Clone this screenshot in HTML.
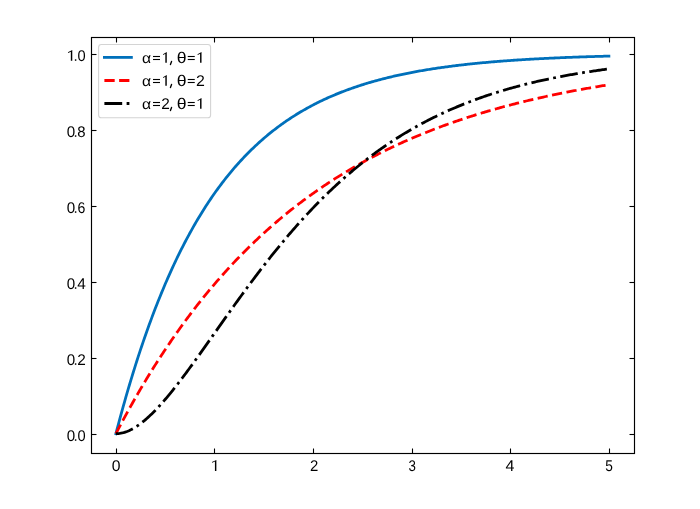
<!DOCTYPE html>
<html><head><meta charset="utf-8"><style>
html,body{margin:0;padding:0;width:700px;height:509px;overflow:hidden;background:#fff;}
</style></head><body>
<svg width="700" height="509" viewBox="0 0 700 509" style="position:absolute;left:0;top:0;will-change:transform"><rect width="700" height="509" fill="#fff"/><defs><clipPath id="c"><rect x="91.5" y="37.5" width="543.00" height="416.00"/></clipPath></defs><g clip-path="url(#c)" fill="none" stroke-linejoin="round"><path d="M115.90,433.70 L117.14,428.97 L118.37,424.29 L119.61,419.67 L120.84,415.11 L122.08,410.61 L123.31,406.16 L124.55,401.77 L125.78,397.44 L127.02,393.15 L128.26,388.92 L129.49,384.75 L130.73,380.62 L131.96,376.55 L133.20,372.53 L134.43,368.56 L135.67,364.63 L136.91,360.76 L138.14,356.93 L139.38,353.15 L140.61,349.42 L141.85,345.74 L143.08,342.10 L144.32,338.51 L145.55,334.96 L146.79,331.45 L148.03,327.99 L149.26,324.57 L150.50,321.20 L151.73,317.87 L152.97,314.57 L154.20,311.32 L155.44,308.11 L156.67,304.94 L157.91,301.81 L159.15,298.72 L160.38,295.67 L161.62,292.65 L162.85,289.67 L164.09,286.73 L165.32,283.83 L166.56,280.96 L167.79,278.13 L169.03,275.33 L170.27,272.57 L171.50,269.84 L172.74,267.15 L173.97,264.49 L175.21,261.86 L176.44,259.27 L177.68,256.71 L178.92,254.18 L180.15,251.68 L181.39,249.21 L182.62,246.77 L183.86,244.37 L185.09,241.99 L186.33,239.64 L187.56,237.33 L188.80,235.04 L190.04,232.78 L191.27,230.55 L192.51,228.34 L193.74,226.16 L194.98,224.01 L196.21,221.89 L197.45,219.80 L198.68,217.72 L199.92,215.68 L201.16,213.66 L202.39,211.67 L203.63,209.70 L204.86,207.75 L206.10,205.83 L207.33,203.94 L208.57,202.06 L209.80,200.21 L211.04,198.39 L212.28,196.58 L213.51,194.80 L214.75,193.04 L215.98,191.31 L217.22,189.59 L218.45,187.90 L219.69,186.22 L220.93,184.57 L222.16,182.94 L223.40,181.33 L224.63,179.74 L225.87,178.16 L227.10,176.61 L228.34,175.08 L229.57,173.57 L230.81,172.07 L232.05,170.60 L233.28,169.14 L234.52,167.70 L235.75,166.28 L236.99,164.87 L238.22,163.49 L239.46,162.12 L240.69,160.76 L241.93,159.43 L243.17,158.11 L244.40,156.81 L245.64,155.52 L246.87,154.25 L248.11,153.00 L249.34,151.76 L250.58,150.54 L251.81,149.33 L253.05,148.14 L254.29,146.96 L255.52,145.79 L256.76,144.65 L257.99,143.51 L259.23,142.39 L260.46,141.28 L261.70,140.19 L262.94,139.11 L264.17,138.05 L265.41,136.99 L266.64,135.96 L267.88,134.93 L269.11,133.92 L270.35,132.91 L271.58,131.93 L272.82,130.95 L274.06,129.99 L275.29,129.03 L276.53,128.09 L277.76,127.17 L279.00,126.25 L280.23,125.34 L281.47,124.45 L282.70,123.57 L283.94,122.69 L285.18,121.83 L286.41,120.98 L287.65,120.14 L288.88,119.31 L290.12,118.49 L291.35,117.68 L292.59,116.89 L293.82,116.10 L295.06,115.32 L296.30,114.55 L297.53,113.79 L298.77,113.04 L300.00,112.30 L301.24,111.57 L302.47,110.84 L303.71,110.13 L304.95,109.43 L306.18,108.73 L307.42,108.04 L308.65,107.36 L309.89,106.69 L311.12,106.03 L312.36,105.38 L313.59,104.73 L314.83,104.09 L316.07,103.46 L317.30,102.84 L318.54,102.23 L319.77,101.62 L321.01,101.02 L322.24,100.43 L323.48,99.85 L324.71,99.27 L325.95,98.70 L327.19,98.14 L328.42,97.58 L329.66,97.04 L330.89,96.49 L332.13,95.96 L333.36,95.43 L334.60,94.91 L335.83,94.39 L337.07,93.89 L338.31,93.38 L339.54,92.89 L340.78,92.40 L342.01,91.91 L343.25,91.44 L344.48,90.96 L345.72,90.50 L346.96,90.04 L348.19,89.58 L349.43,89.13 L350.66,88.69 L351.90,88.25 L353.13,87.82 L354.37,87.39 L355.60,86.97 L356.84,86.56 L358.08,86.14 L359.31,85.74 L360.55,85.34 L361.78,84.94 L363.02,84.55 L364.25,84.16 L365.49,83.78 L366.72,83.41 L367.96,83.03 L369.20,82.67 L370.43,82.30 L371.67,81.95 L372.90,81.59 L374.14,81.24 L375.37,80.90 L376.61,80.56 L377.84,80.22 L379.08,79.89 L380.32,79.56 L381.55,79.24 L382.79,78.92 L384.02,78.60 L385.26,78.29 L386.49,77.98 L387.73,77.68 L388.97,77.38 L390.20,77.08 L391.44,76.79 L392.67,76.50 L393.91,76.21 L395.14,75.93 L396.38,75.65 L397.61,75.37 L398.85,75.10 L400.09,74.83 L401.32,74.57 L402.56,74.31 L403.79,74.05 L405.03,73.79 L406.26,73.54 L407.50,73.29 L408.73,73.04 L409.97,72.80 L411.21,72.56 L412.44,72.33 L413.68,72.09 L414.91,71.86 L416.15,71.63 L417.38,71.41 L418.62,71.18 L419.85,70.96 L421.09,70.75 L422.33,70.53 L423.56,70.32 L424.80,70.11 L426.03,69.91 L427.27,69.70 L428.50,69.50 L429.74,69.30 L430.98,69.11 L432.21,68.91 L433.45,68.72 L434.68,68.53 L435.92,68.35 L437.15,68.16 L438.39,67.98 L439.62,67.80 L440.86,67.62 L442.10,67.45 L443.33,67.27 L444.57,67.10 L445.80,66.93 L447.04,66.77 L448.27,66.60 L449.51,66.44 L450.74,66.28 L451.98,66.12 L453.22,65.96 L454.45,65.81 L455.69,65.66 L456.92,65.50 L458.16,65.36 L459.39,65.21 L460.63,65.06 L461.86,64.92 L463.10,64.78 L464.34,64.64 L465.57,64.50 L466.81,64.36 L468.04,64.23 L469.28,64.10 L470.51,63.96 L471.75,63.83 L472.99,63.71 L474.22,63.58 L475.46,63.45 L476.69,63.33 L477.93,63.21 L479.16,63.09 L480.40,62.97 L481.63,62.85 L482.87,62.74 L484.11,62.62 L485.34,62.51 L486.58,62.40 L487.81,62.29 L489.05,62.18 L490.28,62.07 L491.52,61.96 L492.75,61.86 L493.99,61.76 L495.23,61.65 L496.46,61.55 L497.70,61.45 L498.93,61.35 L500.17,61.26 L501.40,61.16 L502.64,61.07 L503.87,60.97 L505.11,60.88 L506.35,60.79 L507.58,60.70 L508.82,60.61 L510.05,60.52 L511.29,60.43 L512.52,60.35 L513.76,60.26 L515.00,60.18 L516.23,60.10 L517.47,60.01 L518.70,59.93 L519.94,59.85 L521.17,59.78 L522.41,59.70 L523.64,59.62 L524.88,59.55 L526.12,59.47 L527.35,59.40 L528.59,59.32 L529.82,59.25 L531.06,59.18 L532.29,59.11 L533.53,59.04 L534.76,58.97 L536.00,58.91 L537.24,58.84 L538.47,58.77 L539.71,58.71 L540.94,58.64 L542.18,58.58 L543.41,58.52 L544.65,58.45 L545.88,58.39 L547.12,58.33 L548.36,58.27 L549.59,58.21 L550.83,58.16 L552.06,58.10 L553.30,58.04 L554.53,57.99 L555.77,57.93 L557.01,57.88 L558.24,57.82 L559.48,57.77 L560.71,57.72 L561.95,57.66 L563.18,57.61 L564.42,57.56 L565.65,57.51 L566.89,57.46 L568.13,57.41 L569.36,57.37 L570.60,57.32 L571.83,57.27 L573.07,57.22 L574.30,57.18 L575.54,57.13 L576.77,57.09 L578.01,57.04 L579.25,57.00 L580.48,56.96 L581.72,56.91 L582.95,56.87 L584.19,56.83 L585.42,56.79 L586.66,56.75 L587.89,56.71 L589.13,56.67 L590.37,56.63 L591.60,56.59 L592.84,56.55 L594.07,56.52 L595.31,56.48 L596.54,56.44 L597.78,56.41 L599.02,56.37 L600.25,56.34 L601.49,56.30 L602.72,56.27 L603.96,56.23 L605.19,56.20 L606.43,56.17 L607.66,56.13 L608.90,56.10" stroke="#0070bb" stroke-width="2.78" stroke-linecap="square"/><path d="M115.90,433.70 L117.14,431.33 L118.37,428.97 L119.61,426.62 L120.84,424.29 L122.08,421.97 L123.31,419.67 L124.55,417.39 L125.78,415.11 L127.02,412.86 L128.26,410.61 L129.49,408.38 L130.73,406.16 L131.96,403.96 L133.20,401.77 L134.43,399.60 L135.67,397.44 L136.91,395.29 L138.14,393.15 L139.38,391.03 L140.61,388.92 L141.85,386.83 L143.08,384.75 L144.32,382.68 L145.55,380.62 L146.79,378.58 L148.03,376.55 L149.26,374.53 L150.50,372.53 L151.73,370.54 L152.97,368.56 L154.20,366.59 L155.44,364.63 L156.67,362.69 L157.91,360.76 L159.15,358.84 L160.38,356.93 L161.62,355.04 L162.85,353.15 L164.09,351.28 L165.32,349.42 L166.56,347.58 L167.79,345.74 L169.03,343.91 L170.27,342.10 L171.50,340.30 L172.74,338.51 L173.97,336.73 L175.21,334.96 L176.44,333.20 L177.68,331.45 L178.92,329.72 L180.15,327.99 L181.39,326.28 L182.62,324.57 L183.86,322.88 L185.09,321.20 L186.33,319.53 L187.56,317.87 L188.80,316.22 L190.04,314.57 L191.27,312.94 L192.51,311.32 L193.74,309.71 L194.98,308.11 L196.21,306.52 L197.45,304.94 L198.68,303.37 L199.92,301.81 L201.16,300.26 L202.39,298.72 L203.63,297.19 L204.86,295.67 L206.10,294.16 L207.33,292.65 L208.57,291.16 L209.80,289.67 L211.04,288.20 L212.28,286.73 L213.51,285.28 L214.75,283.83 L215.98,282.39 L217.22,280.96 L218.45,279.54 L219.69,278.13 L220.93,276.73 L222.16,275.33 L223.40,273.95 L224.63,272.57 L225.87,271.20 L227.10,269.84 L228.34,268.49 L229.57,267.15 L230.81,265.82 L232.05,264.49 L233.28,263.17 L234.52,261.86 L235.75,260.56 L236.99,259.27 L238.22,257.98 L239.46,256.71 L240.69,255.44 L241.93,254.18 L243.17,252.92 L244.40,251.68 L245.64,250.44 L246.87,249.21 L248.11,247.99 L249.34,246.77 L250.58,245.57 L251.81,244.37 L253.05,243.18 L254.29,241.99 L255.52,240.81 L256.76,239.64 L257.99,238.48 L259.23,237.33 L260.46,236.18 L261.70,235.04 L262.94,233.90 L264.17,232.78 L265.41,231.66 L266.64,230.55 L267.88,229.44 L269.11,228.34 L270.35,227.25 L271.58,226.16 L272.82,225.09 L274.06,224.01 L275.29,222.95 L276.53,221.89 L277.76,220.84 L279.00,219.80 L280.23,218.76 L281.47,217.72 L282.70,216.70 L283.94,215.68 L285.18,214.67 L286.41,213.66 L287.65,212.66 L288.88,211.67 L290.12,210.68 L291.35,209.70 L292.59,208.72 L293.82,207.75 L295.06,206.79 L296.30,205.83 L297.53,204.88 L298.77,203.94 L300.00,203.00 L301.24,202.06 L302.47,201.14 L303.71,200.21 L304.95,199.30 L306.18,198.39 L307.42,197.48 L308.65,196.58 L309.89,195.69 L311.12,194.80 L312.36,193.92 L313.59,193.04 L314.83,192.17 L316.07,191.31 L317.30,190.45 L318.54,189.59 L319.77,188.74 L321.01,187.90 L322.24,187.06 L323.48,186.22 L324.71,185.39 L325.95,184.57 L327.19,183.75 L328.42,182.94 L329.66,182.13 L330.89,181.33 L332.13,180.53 L333.36,179.74 L334.60,178.95 L335.83,178.16 L337.07,177.39 L338.31,176.61 L339.54,175.84 L340.78,175.08 L342.01,174.32 L343.25,173.57 L344.48,172.82 L345.72,172.07 L346.96,171.33 L348.19,170.60 L349.43,169.86 L350.66,169.14 L351.90,168.42 L353.13,167.70 L354.37,166.99 L355.60,166.28 L356.84,165.57 L358.08,164.87 L359.31,164.18 L360.55,163.49 L361.78,162.80 L363.02,162.12 L364.25,161.44 L365.49,160.76 L366.72,160.10 L367.96,159.43 L369.20,158.77 L370.43,158.11 L371.67,157.46 L372.90,156.81 L374.14,156.16 L375.37,155.52 L376.61,154.89 L377.84,154.25 L379.08,153.62 L380.32,153.00 L381.55,152.38 L382.79,151.76 L384.02,151.15 L385.26,150.54 L386.49,149.93 L387.73,149.33 L388.97,148.73 L390.20,148.14 L391.44,147.55 L392.67,146.96 L393.91,146.37 L395.14,145.79 L396.38,145.22 L397.61,144.65 L398.85,144.08 L400.09,143.51 L401.32,142.95 L402.56,142.39 L403.79,141.84 L405.03,141.28 L406.26,140.74 L407.50,140.19 L408.73,139.65 L409.97,139.11 L411.21,138.58 L412.44,138.05 L413.68,137.52 L414.91,136.99 L416.15,136.47 L417.38,135.96 L418.62,135.44 L419.85,134.93 L421.09,134.42 L422.33,133.92 L423.56,133.41 L424.80,132.91 L426.03,132.42 L427.27,131.93 L428.50,131.44 L429.74,130.95 L430.98,130.47 L432.21,129.99 L433.45,129.51 L434.68,129.03 L435.92,128.56 L437.15,128.09 L438.39,127.63 L439.62,127.17 L440.86,126.71 L442.10,126.25 L443.33,125.79 L444.57,125.34 L445.80,124.89 L447.04,124.45 L448.27,124.01 L449.51,123.57 L450.74,123.13 L451.98,122.69 L453.22,122.26 L454.45,121.83 L455.69,121.41 L456.92,120.98 L458.16,120.56 L459.39,120.14 L460.63,119.73 L461.86,119.31 L463.10,118.90 L464.34,118.49 L465.57,118.09 L466.81,117.68 L468.04,117.28 L469.28,116.89 L470.51,116.49 L471.75,116.10 L472.99,115.71 L474.22,115.32 L475.46,114.93 L476.69,114.55 L477.93,114.17 L479.16,113.79 L480.40,113.41 L481.63,113.04 L482.87,112.67 L484.11,112.30 L485.34,111.93 L486.58,111.57 L487.81,111.20 L489.05,110.84 L490.28,110.49 L491.52,110.13 L492.75,109.78 L493.99,109.43 L495.23,109.08 L496.46,108.73 L497.70,108.38 L498.93,108.04 L500.17,107.70 L501.40,107.36 L502.64,107.03 L503.87,106.69 L505.11,106.36 L506.35,106.03 L507.58,105.70 L508.82,105.38 L510.05,105.05 L511.29,104.73 L512.52,104.41 L513.76,104.09 L515.00,103.78 L516.23,103.46 L517.47,103.15 L518.70,102.84 L519.94,102.54 L521.17,102.23 L522.41,101.92 L523.64,101.62 L524.88,101.32 L526.12,101.02 L527.35,100.73 L528.59,100.43 L529.82,100.14 L531.06,99.85 L532.29,99.56 L533.53,99.27 L534.76,98.99 L536.00,98.70 L537.24,98.42 L538.47,98.14 L539.71,97.86 L540.94,97.58 L542.18,97.31 L543.41,97.04 L544.65,96.76 L545.88,96.49 L547.12,96.23 L548.36,95.96 L549.59,95.69 L550.83,95.43 L552.06,95.17 L553.30,94.91 L554.53,94.65 L555.77,94.39 L557.01,94.14 L558.24,93.89 L559.48,93.63 L560.71,93.38 L561.95,93.13 L563.18,92.89 L564.42,92.64 L565.65,92.40 L566.89,92.15 L568.13,91.91 L569.36,91.67 L570.60,91.44 L571.83,91.20 L573.07,90.96 L574.30,90.73 L575.54,90.50 L576.77,90.27 L578.01,90.04 L579.25,89.81 L580.48,89.58 L581.72,89.36 L582.95,89.13 L584.19,88.91 L585.42,88.69 L586.66,88.47 L587.89,88.25 L589.13,88.04 L590.37,87.82 L591.60,87.61 L592.84,87.39 L594.07,87.18 L595.31,86.97 L596.54,86.76 L597.78,86.56 L599.02,86.35 L600.25,86.14 L601.49,85.94 L602.72,85.74 L603.96,85.54 L605.19,85.34 L606.43,85.14 L607.66,84.94 L608.90,84.75" stroke="#ff0000" stroke-width="2.78" stroke-dasharray="10.28 4.44"/><path d="M115.90,433.70 L117.14,433.67 L118.37,433.58 L119.61,433.44 L120.84,433.24 L122.08,432.98 L123.31,432.68 L124.55,432.32 L125.78,431.91 L127.02,431.46 L128.26,430.95 L129.49,430.40 L130.73,429.81 L131.96,429.17 L133.20,428.49 L134.43,427.77 L135.67,427.01 L136.91,426.21 L138.14,425.37 L139.38,424.49 L140.61,423.58 L141.85,422.63 L143.08,421.65 L144.32,420.64 L145.55,419.59 L146.79,418.52 L148.03,417.41 L149.26,416.28 L150.50,415.11 L151.73,413.92 L152.97,412.71 L154.20,411.47 L155.44,410.20 L156.67,408.91 L157.91,407.59 L159.15,406.26 L160.38,404.90 L161.62,403.52 L162.85,402.12 L164.09,400.70 L165.32,399.26 L166.56,397.81 L167.79,396.34 L169.03,394.85 L170.27,393.34 L171.50,391.82 L172.74,390.28 L173.97,388.73 L175.21,387.17 L176.44,385.59 L177.68,384.00 L178.92,382.40 L180.15,380.79 L181.39,379.17 L182.62,377.53 L183.86,375.89 L185.09,374.24 L186.33,372.58 L187.56,370.91 L188.80,369.23 L190.04,367.54 L191.27,365.85 L192.51,364.15 L193.74,362.45 L194.98,360.74 L196.21,359.02 L197.45,357.30 L198.68,355.57 L199.92,353.84 L201.16,352.11 L202.39,350.38 L203.63,348.64 L204.86,346.89 L206.10,345.15 L207.33,343.40 L208.57,341.65 L209.80,339.90 L211.04,338.15 L212.28,336.40 L213.51,334.65 L214.75,332.90 L215.98,331.14 L217.22,329.39 L218.45,327.64 L219.69,325.89 L220.93,324.14 L222.16,322.39 L223.40,320.64 L224.63,318.90 L225.87,317.16 L227.10,315.42 L228.34,313.68 L229.57,311.94 L230.81,310.21 L232.05,308.48 L233.28,306.75 L234.52,305.03 L235.75,303.31 L236.99,301.60 L238.22,299.89 L239.46,298.18 L240.69,296.48 L241.93,294.78 L243.17,293.08 L244.40,291.39 L245.64,289.71 L246.87,288.03 L248.11,286.36 L249.34,284.69 L250.58,283.03 L251.81,281.37 L253.05,279.72 L254.29,278.07 L255.52,276.43 L256.76,274.80 L257.99,273.17 L259.23,271.55 L260.46,269.93 L261.70,268.32 L262.94,266.72 L264.17,265.12 L265.41,263.54 L266.64,261.95 L267.88,260.38 L269.11,258.81 L270.35,257.25 L271.58,255.69 L272.82,254.15 L274.06,252.61 L275.29,251.07 L276.53,249.55 L277.76,248.03 L279.00,246.52 L280.23,245.01 L281.47,243.52 L282.70,242.03 L283.94,240.55 L285.18,239.08 L286.41,237.61 L287.65,236.15 L288.88,234.70 L290.12,233.26 L291.35,231.83 L292.59,230.40 L293.82,228.98 L295.06,227.57 L296.30,226.17 L297.53,224.77 L298.77,223.39 L300.00,222.01 L301.24,220.64 L302.47,219.27 L303.71,217.92 L304.95,216.57 L306.18,215.23 L307.42,213.90 L308.65,212.58 L309.89,211.27 L311.12,209.96 L312.36,208.66 L313.59,207.37 L314.83,206.09 L316.07,204.82 L317.30,203.55 L318.54,202.29 L319.77,201.04 L321.01,199.80 L322.24,198.57 L323.48,197.34 L324.71,196.12 L325.95,194.91 L327.19,193.71 L328.42,192.52 L329.66,191.33 L330.89,190.15 L332.13,188.98 L333.36,187.82 L334.60,186.67 L335.83,185.52 L337.07,184.39 L338.31,183.26 L339.54,182.13 L340.78,181.02 L342.01,179.91 L343.25,178.81 L344.48,177.72 L345.72,176.64 L346.96,175.56 L348.19,174.50 L349.43,173.43 L350.66,172.38 L351.90,171.34 L353.13,170.30 L354.37,169.27 L355.60,168.25 L356.84,167.23 L358.08,166.23 L359.31,165.23 L360.55,164.23 L361.78,163.25 L363.02,162.27 L364.25,161.30 L365.49,160.34 L366.72,159.38 L367.96,158.43 L369.20,157.49 L370.43,156.56 L371.67,155.63 L372.90,154.71 L374.14,153.80 L375.37,152.89 L376.61,151.99 L377.84,151.10 L379.08,150.22 L380.32,149.34 L381.55,148.47 L382.79,147.60 L384.02,146.75 L385.26,145.90 L386.49,145.05 L387.73,144.22 L388.97,143.39 L390.20,142.56 L391.44,141.74 L392.67,140.93 L393.91,140.13 L395.14,139.33 L396.38,138.54 L397.61,137.76 L398.85,136.98 L400.09,136.20 L401.32,135.44 L402.56,134.68 L403.79,133.93 L405.03,133.18 L406.26,132.44 L407.50,131.70 L408.73,130.97 L409.97,130.25 L411.21,129.53 L412.44,128.82 L413.68,128.12 L414.91,127.42 L416.15,126.72 L417.38,126.04 L418.62,125.36 L419.85,124.68 L421.09,124.01 L422.33,123.34 L423.56,122.69 L424.80,122.03 L426.03,121.38 L427.27,120.74 L428.50,120.11 L429.74,119.47 L430.98,118.85 L432.21,118.23 L433.45,117.61 L434.68,117.00 L435.92,116.40 L437.15,115.80 L438.39,115.20 L439.62,114.61 L440.86,114.03 L442.10,113.45 L443.33,112.88 L444.57,112.31 L445.80,111.74 L447.04,111.18 L448.27,110.63 L449.51,110.08 L450.74,109.54 L451.98,109.00 L453.22,108.46 L454.45,107.93 L455.69,107.41 L456.92,106.89 L458.16,106.37 L459.39,105.86 L460.63,105.35 L461.86,104.85 L463.10,104.35 L464.34,103.86 L465.57,103.37 L466.81,102.88 L468.04,102.40 L469.28,101.93 L470.51,101.45 L471.75,100.99 L472.99,100.52 L474.22,100.06 L475.46,99.61 L476.69,99.16 L477.93,98.71 L479.16,98.27 L480.40,97.83 L481.63,97.39 L482.87,96.96 L484.11,96.54 L485.34,96.11 L486.58,95.69 L487.81,95.28 L489.05,94.87 L490.28,94.46 L491.52,94.05 L492.75,93.65 L493.99,93.26 L495.23,92.86 L496.46,92.48 L497.70,92.09 L498.93,91.71 L500.17,91.33 L501.40,90.95 L502.64,90.58 L503.87,90.21 L505.11,89.85 L506.35,89.49 L507.58,89.13 L508.82,88.78 L510.05,88.42 L511.29,88.08 L512.52,87.73 L513.76,87.39 L515.00,87.05 L516.23,86.72 L517.47,86.38 L518.70,86.06 L519.94,85.73 L521.17,85.41 L522.41,85.09 L523.64,84.77 L524.88,84.46 L526.12,84.15 L527.35,83.84 L528.59,83.53 L529.82,83.23 L531.06,82.93 L532.29,82.64 L533.53,82.34 L534.76,82.05 L536.00,81.76 L537.24,81.48 L538.47,81.20 L539.71,80.92 L540.94,80.64 L542.18,80.37 L543.41,80.09 L544.65,79.83 L545.88,79.56 L547.12,79.29 L548.36,79.03 L549.59,78.77 L550.83,78.52 L552.06,78.26 L553.30,78.01 L554.53,77.76 L555.77,77.52 L557.01,77.27 L558.24,77.03 L559.48,76.79 L560.71,76.55 L561.95,76.32 L563.18,76.09 L564.42,75.86 L565.65,75.63 L566.89,75.40 L568.13,75.18 L569.36,74.96 L570.60,74.74 L571.83,74.52 L573.07,74.31 L574.30,74.09 L575.54,73.88 L576.77,73.67 L578.01,73.47 L579.25,73.26 L580.48,73.06 L581.72,72.86 L582.95,72.66 L584.19,72.46 L585.42,72.27 L586.66,72.07 L587.89,71.88 L589.13,71.69 L590.37,71.51 L591.60,71.32 L592.84,71.14 L594.07,70.96 L595.31,70.78 L596.54,70.60 L597.78,70.42 L599.02,70.25 L600.25,70.07 L601.49,69.90 L602.72,69.73 L603.96,69.56 L605.19,69.40 L606.43,69.23 L607.66,69.07 L608.90,68.91" stroke="#000000" stroke-width="2.78" stroke-dasharray="17.78 4.44 2.78 4.44"/></g><g stroke="#000" stroke-width="1.1"><line x1="116.5" y1="453.5" x2="116.5" y2="448.5"/><line x1="116.5" y1="37.5" x2="116.5" y2="42.5"/><line x1="214.5" y1="453.5" x2="214.5" y2="448.5"/><line x1="214.5" y1="37.5" x2="214.5" y2="42.5"/><line x1="313.5" y1="453.5" x2="313.5" y2="448.5"/><line x1="313.5" y1="37.5" x2="313.5" y2="42.5"/><line x1="412.5" y1="453.5" x2="412.5" y2="448.5"/><line x1="412.5" y1="37.5" x2="412.5" y2="42.5"/><line x1="510.5" y1="453.5" x2="510.5" y2="448.5"/><line x1="510.5" y1="37.5" x2="510.5" y2="42.5"/><line x1="609.5" y1="453.5" x2="609.5" y2="448.5"/><line x1="609.5" y1="37.5" x2="609.5" y2="42.5"/><line x1="91.5" y1="434.5" x2="96.5" y2="434.5"/><line x1="634.5" y1="434.5" x2="629.5" y2="434.5"/><line x1="91.5" y1="358.5" x2="96.5" y2="358.5"/><line x1="634.5" y1="358.5" x2="629.5" y2="358.5"/><line x1="91.5" y1="282.5" x2="96.5" y2="282.5"/><line x1="634.5" y1="282.5" x2="629.5" y2="282.5"/><line x1="91.5" y1="206.5" x2="96.5" y2="206.5"/><line x1="634.5" y1="206.5" x2="629.5" y2="206.5"/><line x1="91.5" y1="130.5" x2="96.5" y2="130.5"/><line x1="634.5" y1="130.5" x2="629.5" y2="130.5"/><line x1="91.5" y1="54.5" x2="96.5" y2="54.5"/><line x1="634.5" y1="54.5" x2="629.5" y2="54.5"/></g><rect x="91.5" y="37.5" width="543.00" height="416.00" fill="none" stroke="#000" stroke-width="1.15"/><rect x="98.6" y="44.5" width="112" height="73.3" rx="2.8" fill="#fff" fill-opacity="0.8" stroke="#d4d4d4" stroke-width="1.1"/><line x1="104.4" y1="57.4" x2="131.4" y2="57.4" stroke="#0070bb" stroke-width="2.78" stroke-linecap="square"/><line x1="104.4" y1="80.5" x2="131.4" y2="80.5" stroke="#ff0000" stroke-width="2.78" stroke-dasharray="10.28 4.44"/><line x1="104.4" y1="103.5" x2="131.4" y2="103.5" stroke="#000000" stroke-width="2.78" stroke-dasharray="17.78 4.44 2.78 4.44"/><g font-family="Liberation Sans, sans-serif" fill="#000" text-rendering="geometricPrecision"><text transform="translate(142.09,62.75) scale(1.0174,0.94)" font-size="15.5">α</text><rect x="153.00" y="55.95" width="7.00" height="1.1"/><rect x="153.00" y="58.95" width="7.00" height="1.1"/><path d="M166.77,52.05 L166.77,62.75 L165.33,62.75 L165.33,53.65 L163.30,55.00 L163.00,54.15 Z"/><path d="M171.55,61.50 L170.45,64.50" stroke="#000" stroke-width="1.35" stroke-linecap="round" fill="none"/><text transform="translate(176.84,62.75) scale(1.1403,1.0)" font-size="15.5">θ</text><rect x="187.75" y="55.95" width="7.00" height="1.1"/><rect x="187.75" y="58.95" width="7.00" height="1.1"/><path d="M201.52,52.05 L201.52,62.75 L200.08,62.75 L200.08,53.65 L197.80,55.00 L197.50,54.15 Z"/><text transform="translate(142.09,85.75) scale(1.0174,0.94)" font-size="15.5">α</text><rect x="153.00" y="78.95" width="7.00" height="1.1"/><rect x="153.00" y="81.95" width="7.00" height="1.1"/><path d="M166.77,75.05 L166.77,85.75 L165.33,85.75 L165.33,76.65 L163.30,78.00 L163.00,77.15 Z"/><path d="M171.55,84.50 L170.45,87.50" stroke="#000" stroke-width="1.35" stroke-linecap="round" fill="none"/><text transform="translate(176.84,85.75) scale(1.1403,1.0)" font-size="15.5">θ</text><rect x="187.75" y="78.95" width="7.00" height="1.1"/><rect x="187.75" y="81.95" width="7.00" height="1.1"/><text transform="translate(195.95,85.75) scale(1.0267,1.0)" font-size="15.5">2</text><text transform="translate(142.09,108.75) scale(1.0174,0.94)" font-size="15.5">α</text><rect x="153.00" y="101.95" width="7.00" height="1.1"/><rect x="153.00" y="104.95" width="7.00" height="1.1"/><text transform="translate(161.23,108.75) scale(0.9913,1.0)" font-size="15.5">2</text><path d="M171.55,107.50 L170.45,110.50" stroke="#000" stroke-width="1.35" stroke-linecap="round" fill="none"/><text transform="translate(176.84,108.75) scale(1.1403,1.0)" font-size="15.5">θ</text><rect x="187.75" y="101.95" width="7.00" height="1.1"/><rect x="187.75" y="104.95" width="7.00" height="1.1"/><path d="M201.52,98.05 L201.52,108.75 L200.08,108.75 L200.08,99.65 L197.80,101.00 L197.50,100.15 Z"/><text transform="translate(66.66,440.80) scale(0.9785,1.0)" font-size="15.5">0</text><rect x="74.88" y="439.30" width="1.45" height="1.5"/><text transform="translate(77.43,440.80) scale(0.9447,1.0)" font-size="15.5">0</text><text transform="translate(66.66,364.80) scale(0.9785,1.0)" font-size="15.5">0</text><rect x="74.88" y="363.30" width="1.45" height="1.5"/><text transform="translate(77.23,364.80) scale(0.9913,1.0)" font-size="15.5">2</text><text transform="translate(66.66,288.80) scale(0.9785,1.0)" font-size="15.5">0</text><rect x="74.88" y="287.30" width="1.45" height="1.5"/><text transform="translate(77.15,288.80) scale(0.9922,1.0)" font-size="15.5">4</text><text transform="translate(66.66,212.80) scale(0.9785,1.0)" font-size="15.5">0</text><rect x="74.88" y="211.30" width="1.45" height="1.5"/><text transform="translate(77.53,212.80) scale(0.9088,1.0)" font-size="15.5">6</text><text transform="translate(66.66,136.80) scale(0.9785,1.0)" font-size="15.5">0</text><rect x="74.88" y="135.30" width="1.45" height="1.5"/><text transform="translate(77.35,136.80) scale(0.9624,1.0)" font-size="15.5">8</text><path d="M72.27,50.05 L72.27,60.80 L70.83,60.80 L70.83,51.65 L68.20,53.00 L67.90,52.15 Z"/><rect x="74.88" y="59.30" width="1.45" height="1.5"/><text transform="translate(77.43,60.80) scale(0.9447,1.0)" font-size="15.5">0</text><text transform="translate(111.64,470.90) scale(1.0122,1.0)" font-size="15.5">0</text><path d="M216.37,459.90 L216.37,470.90 L214.93,470.90 L214.93,461.50 L212.20,462.85 L211.90,462.00 Z"/><text transform="translate(310.05,470.90) scale(0.9630,1.0)" font-size="15.5">2</text><text transform="translate(408.39,470.90) scale(0.8573,1.0)" font-size="15.5">3</text><text transform="translate(505.53,470.90) scale(1.0371,1.0)" font-size="15.5">4</text><text transform="translate(605.20,470.90) scale(0.8845,1.0)" font-size="15.5">5</text></g></svg>
</body></html>
